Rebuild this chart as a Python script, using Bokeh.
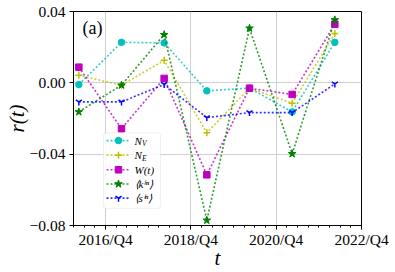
from bokeh.plotting import figure
from bokeh.models import Range1d, FixedTicker, Label, BoxAnnotation
from bokeh.embed import file_html
from bokeh.resources import INLINE

# ---- data ----
t_years = [2016.125, 2017.125, 2018.125, 2019.125, 2020.125, 2021.125, 2022.125]
r_NV = [-0.0010, 0.0227, 0.0224, -0.0045, -0.0030, -0.0163, 0.0227]
r_NE = [0.0042, -0.0013, 0.0126, -0.0280, -0.0030, -0.0114, 0.0276]
r_W = [0.0088, -0.0257, 0.0025, -0.0516, -0.0030, -0.0065, 0.0329]
r_kin = [-0.0163, -0.0013, 0.0270, -0.0771, 0.0306, -0.0398, 0.0353]
r_sin = [-0.0107, -0.0107, -0.0009, -0.0195, -0.0167, -0.0167, -0.0006]

x_major_ticks = [2016.75, 2018.75, 2020.75, 2022.75]
x_major_labels = ["2016/Q4", "2018/Q4", "2020/Q4", "2022/Q4"]
y_ticks = [-0.08, -0.04, 0.0, 0.04]
y_labels = ["\u22120.08", "\u22120.04", "0.00", "0.04"]

series_vals = [r_NV, r_NE, r_W, r_kin, r_sin]
series_colors = ["#00bfbf", "#bfbf00", "#bf00bf", "#008000", "#0000ff"]
series_markers = ["circle", "cross", "square", "star", "y"]
marker_sizes = [6.5, 7, 6.5, 8, 7]

X0, X1 = 2016.0, 2022.75
Y0, Y1 = -0.08, 0.04

# frame position in page pixels (for placing annotations)
FL, FR, FT, FB = 73, 361, 11, 226
W, H = 395, 272


def dx(px):
    return X0 + (px - FL) * (X1 - X0) / (FR - FL)


def dy(py):
    return Y0 + (FB - py) * (Y1 - Y0) / (FB - FT)


SERIF = "Liberation Serif"

p = figure(width=W, height=H, output_backend="svg", toolbar_location=None,
           x_range=Range1d(X0, X1), y_range=Range1d(Y0, Y1),
           min_border_left=FL, min_border_right=W - FR, min_border_top=FT,
           min_border_bottom=H - FB)
p.background_fill_color = "white"
p.border_fill_color = "white"
p.outline_line_color = "black"
p.outline_line_width = 1
p.outline_line_alpha = 1

minor = [X0 + 0.25 * i for i in range(28)]
p.xaxis.ticker = FixedTicker(ticks=x_major_ticks, minor_ticks=minor)
p.xaxis.major_label_overrides = {k: v for k, v in zip(x_major_ticks, x_major_labels)}
p.yaxis.ticker = FixedTicker(ticks=y_ticks)
p.yaxis.major_label_overrides = {k: v for k, v in zip(y_ticks, y_labels)}

for ax in (p.xaxis[0], p.yaxis[0]):
    ax.axis_line_color = "black"
    ax.major_tick_line_color = "black"
    ax.major_tick_in = 0
    ax.major_tick_out = 4
    ax.minor_tick_in = 0
    ax.minor_tick_out = 2
    ax.major_label_text_font = SERIF
    ax.major_label_text_font_size = "15.5px"
    ax.major_label_text_color = "black"
    ax.axis_label_text_font = SERIF
    ax.axis_label_text_font_size = "21px"
    ax.axis_label_text_font_style = "italic"
    ax.axis_label_text_color = "black"
p.xaxis.major_label_standoff = 1
p.yaxis.major_label_standoff = 4
p.yaxis.minor_tick_line_color = None
p.xaxis.axis_label = "t"
p.yaxis.axis_label = "r(t)"
p.xaxis.axis_label_standoff = -5
p.yaxis.axis_label_standoff = -2

for g in (p.xgrid[0], p.ygrid[0]):
    g.grid_line_color = "#cfcfcf"
    g.grid_line_width = 1

DASH = "2 2"

# ---- series ----
for vals, col, mk, ms in zip(series_vals, series_colors, series_markers, marker_sizes):
    p.line(t_years, vals, line_color=col, line_width=1.6, line_dash=DASH,
           line_alpha=0.8)
    p.scatter(t_years, vals, marker=mk, size=ms, fill_color=col, line_color=col,
              line_width=1.5 if mk in ("cross", "y") else 1)

# ---- legend (drawn by hand for sub/superscripts) ----
box = BoxAnnotation(left=dx(103), right=dx(160), top=dy(133), bottom=dy(209),
                    fill_color="white", fill_alpha=0.85, line_color="#cccccc",
                    line_width=1, border_radius=3)
p.add_layout(box)

row_y = [140.7, 155.3, 170.0, 184.3, 198.5]
for ry, col, mk, ms in zip(row_y, series_colors, series_markers, marker_sizes):
    p.line([dx(106), dx(130)], [dy(ry), dy(ry)], line_color=col, line_width=1.6,
           line_dash=DASH, line_alpha=0.8, level="overlay")
    p.scatter([dx(118)], [dy(ry)], marker=mk, size=ms, fill_color=col, line_color=col,
              line_width=1.5 if mk in ("cross", "y") else 1, level="overlay")


def lab(text, px, py, size="11px", style="italic", align="left"):
    p.add_layout(Label(x=dx(px), y=dy(py), text=text, text_font=SERIF,
                       text_font_size=size, text_font_style=style,
                       text_align=align, text_baseline="middle",
                       text_color="black"))


lab("N", 134, row_y[0])
lab("V", 141.5, row_y[0] + 3, size="7.5px")
lab("N", 134, row_y[1])
lab("E", 141.5, row_y[1] + 3, size="7.5px")
lab("W(t)", 134, row_y[2])
lab("\u27e8k\u2071\u207f\u27e9", 134, row_y[3])
lab("\u27e8s\u2071\u207f\u27e9", 134, row_y[4])

# panel tag
lab("(a)", 82, 27.5, size="18px", style="normal")

open("out.html", "w").write(file_html(p, INLINE))
